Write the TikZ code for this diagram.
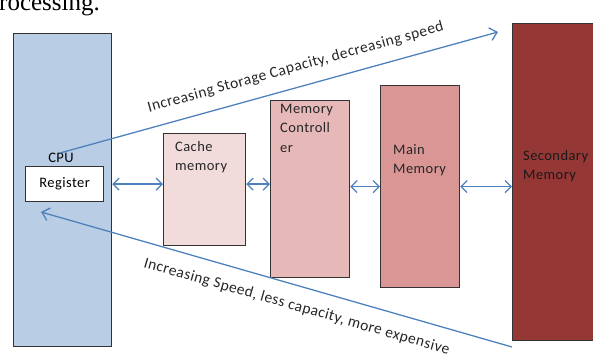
\documentclass[tikz,border=0pt]{standalone}
\usepackage{fontspec}
\setmainfont{Carlito}
\newfontfamily\paperfont{Liberation Serif}
\newfontfamily\boxfont[LetterSpace=3]{Carlito}
\newfontfamily\trendfont[LetterSpace=3]{Carlito}
\usetikzlibrary{arrows.meta,positioning}
\definecolor{cpublue}{HTML}{B9CDE5}
\definecolor{cachepink}{HTML}{F2DCDB}
\definecolor{ctrlpink}{HTML}{E6B9B8}
\definecolor{mainrose}{HTML}{D99694}
\definecolor{secred}{HTML}{953735}
\definecolor{trendblue}{HTML}{4F81BD}

\begin{document}
\begin{tikzpicture}[
    x=1pt, y=-1pt,
    font=\boxfont\fontsize{14.5}{19}\selectfont,
    unit/.style={draw=black!80, line width=1.2pt, anchor=north west,
                 inner sep=0pt},
    boxtext/.style={anchor=base west, align=left, inner sep=0pt,
                    text=black!85},
    link/.style={trendblue, line width=1.3pt,
                 {Straight Barb[length=6pt,width=12pt]}-{Straight Barb[length=6pt,width=12pt]}},
    trend/.style={trendblue, line width=1.3pt},
    slant/.style={sloped, font=\trendfont\fontsize{15.5}{19}\selectfont, text=black!85}
]

\useasboundingbox (0,0) rectangle (593,358);

\node[anchor=base west, inner sep=0pt, font=\paperfont\fontsize{25}{28}\selectfont]
    (paper) at (-1,11) {rocessing.};

% memory hierarchy blocks
\node[unit, fill=cpublue, minimum width=98pt, minimum height=313pt] (cpu) at (13,33) {};
\node[unit, fill=white, minimum width=78pt, minimum height=35pt] (reg) at (25,166) {Register};
\node[anchor=base, inner sep=0pt] (cpulabel) at (61,162) {CPU};

\node[unit, fill=cachepink, minimum width=82pt, minimum height=112pt] (cache) at (163,133) {};
\node[boxtext] (cachelabel) at (175,170) {Cache\\memory};

\node[unit, fill=ctrlpink, minimum width=79pt, minimum height=177pt] (ctrl) at (270,100) {};
\node[boxtext] (ctrllabel) at (280,152) {Memory\\Controll\\er};

\node[unit, fill=mainrose, minimum width=79pt, minimum height=202pt] (main) at (380,85) {};
\node[boxtext] (mainlabel) at (393,173) {Main\\Memory};

\node[unit, fill=secred, minimum width=95pt, minimum height=317pt] (sec) at (512,23) {};
\node[boxtext, text=black!90] (seclabel) at (523,179) {Secondary\\Memory};

% data paths
\draw[link] (reg.east -| cpu.east) -- (reg.east -| cache.west);
\draw[link] (reg.east -| cache.east) -- (reg.east -| ctrl.west);
\draw[link] (main.center -| ctrl.east) -- (main.west);
\draw[link] (main.east) -- (main.center -| sec.west);

% trends
\coordinate (capstart) at (60,153);
\coordinate (capend) at (498,32);
\draw[trend, -{Straight Barb[length=7pt,width=13pt]}] (capstart) --
    node[slant, pos=0.55, above=9pt] {Increasing Storage Capacity, decreasing speed} (capend);

\coordinate (spdtip) at (41,212);
\coordinate (spdend) at (512,347);
\draw[trend, {Straight Barb[length=7pt,width=13pt]}-] (spdtip) --
    node[slant, pos=0.555, below=10pt] {Increasing Speed, less capacity, more expensive} (spdend);

\end{tikzpicture}
\end{document}
